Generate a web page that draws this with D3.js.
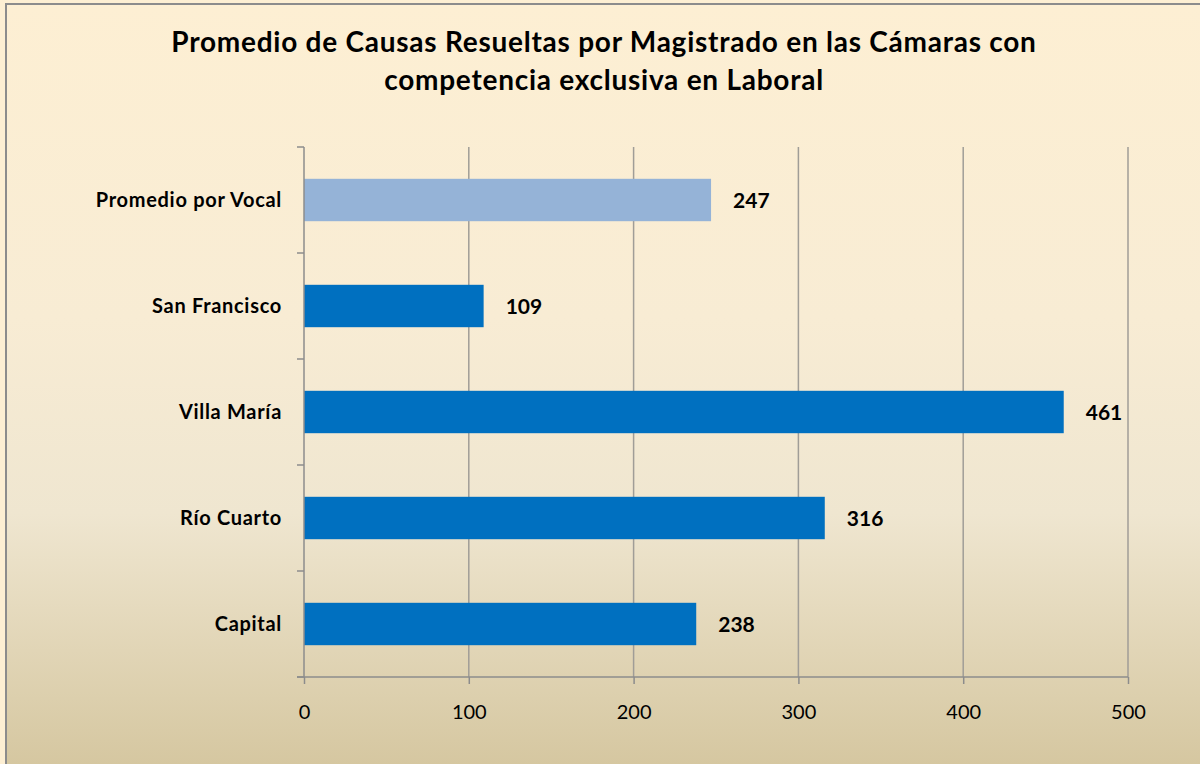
<!DOCTYPE html>
<html>
<head>
<meta charset="utf-8">
<script src="https://cdn.jsdelivr.net/npm/d3@7"></script>
<style>
  body { margin: 0; padding: 0; }
  svg { display: block; font-family: Lato, "Open Sans", sans-serif; }
</style>
</head>
<body>
<div id="chart"></div>
<script>
// data, top row first
var categories = ["Promedio por Vocal", "San Francisco", "Villa María", "Río Cuarto", "Capital"];
var values = [247, 109, 461, 316, 238];
var barColors = ["#95b3d7", "#0070c0", "#0070c0", "#0070c0", "#0070c0"];
var xTicks = [0, 100, 200, 300, 400, 500];
var titleLines = ["Promedio de Causas Resueltas por Magistrado en las Cámaras con",
                  "competencia exclusiva en Laboral"];

var W = 1200, H = 764;
var plot = {left: 304, right: 1128, top: 147, bottom: 677};

var svg = d3.select("#chart").append("svg")
    .attr("width", W)
    .attr("height", H);

// background gradient (cream -> tan)
var grad = svg.append("defs").append("linearGradient")
    .attr("id", "bg")
    .attr("x1", 0).attr("y1", 0).attr("x2", 0).attr("y2", 1);
grad.append("stop").attr("offset", "0%").attr("stop-color", "#fdefd3");
grad.append("stop").attr("offset", "40%").attr("stop-color", "#f8ecd4");
grad.append("stop").attr("offset", "65%").attr("stop-color", "#efe6d0");
grad.append("stop").attr("offset", "100%").attr("stop-color", "#d3c49c");

svg.append("rect")
    .attr("x", 0).attr("y", 0)
    .attr("width", W).attr("height", H)
    .attr("fill", "#fdefd3");

svg.append("rect")
    .attr("x", 6).attr("y", 4)
    .attr("width", W + 20).attr("height", H + 20)
    .attr("fill", "url(#bg)")
    .attr("stroke", "#8c8c8c")
    .attr("stroke-width", 2);

// title
svg.append("g").selectAll("text")
    .data(titleLines)
    .join("text")
    .attr("x", 604)
    .attr("y", function(d, i) { return 52 + i * 38; })
    .attr("text-anchor", "middle")
    .attr("font-size", 28)
    .attr("font-weight", "bold")
    .attr("letter-spacing", 0.75)
    .attr("fill", "#000")
    .text(function(d) { return d; });

var x = d3.scaleLinear()
    .domain([0, 500])
    .range([plot.left, plot.right]);

var y = d3.scaleBand()
    .domain(categories)
    .range([plot.top, plot.bottom])
    .paddingInner(0.6)
    .paddingOuter(0.3);

// vertical gridlines
svg.append("g").selectAll("line")
    .data(xTicks.slice(1))
    .join("line")
    .attr("x1", function(d) { return x(d); })
    .attr("x2", function(d) { return x(d); })
    .attr("y1", plot.top)
    .attr("y2", plot.bottom)
    .attr("stroke", "#a09d97")
    .attr("stroke-width", 1.5);

// bars
svg.append("g").selectAll("rect")
    .data(values)
    .join("rect")
    .attr("x", x(0))
    .attr("y", function(d, i) { return y(categories[i]); })
    .attr("width", function(d) { return x(d) - x(0); })
    .attr("height", y.bandwidth())
    .attr("fill", function(d, i) { return barColors[i]; });

// value labels
svg.append("g").selectAll("text")
    .data(values)
    .join("text")
    .attr("x", function(d) { return x(d) + 22; })
    .attr("y", function(d, i) { return y(categories[i]) + y.bandwidth() / 2 + 8; })
    .attr("font-size", 21)
    .attr("font-weight", "bold")
    .attr("fill", "#000")
    .text(function(d) { return d; });

// x axis
var xAxis = d3.axisBottom(x)
    .tickValues(xTicks)
    .tickSize(7)
    .tickPadding(21)
    .tickSizeOuter(0);

var gx = svg.append("g")
    .attr("transform", "translate(0," + plot.bottom + ")")
    .call(xAxis);
gx.select(".domain").attr("stroke", "#8c8c8c").attr("stroke-width", 1.5)
    .attr("d", "M" + (plot.left - 7) + ",0H" + plot.right);
gx.selectAll(".tick line").attr("stroke", "#8c8c8c").attr("stroke-width", 1.5);
gx.selectAll(".tick text")
    .attr("font-size", 20)
    .attr("font-family", "Lato, 'Open Sans', sans-serif")
    .attr("fill", "#000");

// y axis: ticks sit on band boundaries
var yStep = (plot.bottom - plot.top) / categories.length;
var yAxisG = svg.append("g");
yAxisG.append("line")
    .attr("x1", plot.left).attr("x2", plot.left)
    .attr("y1", plot.top).attr("y2", plot.bottom)
    .attr("stroke", "#8c8c8c").attr("stroke-width", 1.5);
yAxisG.selectAll(".ytick")
    .data(d3.range(categories.length + 1))
    .join("line")
    .attr("class", "ytick")
    .attr("x1", plot.left - 7).attr("x2", plot.left)
    .attr("y1", function(i) { return plot.top + i * yStep; })
    .attr("y2", function(i) { return plot.top + i * yStep; })
    .attr("stroke", "#8c8c8c").attr("stroke-width", 1.5);

yAxisG.selectAll(".ylabel")
    .data(categories)
    .join("text")
    .attr("class", "ylabel")
    .attr("x", plot.left - 22)
    .attr("y", function(d) { return y(d) + y.bandwidth() / 2 + 7; })
    .attr("text-anchor", "end")
    .attr("font-size", 20)
    .attr("font-weight", "bold")
    .attr("letter-spacing", 0.7)
    .attr("fill", "#000")
    .text(function(d) { return d; });
</script>
</body>
</html>
